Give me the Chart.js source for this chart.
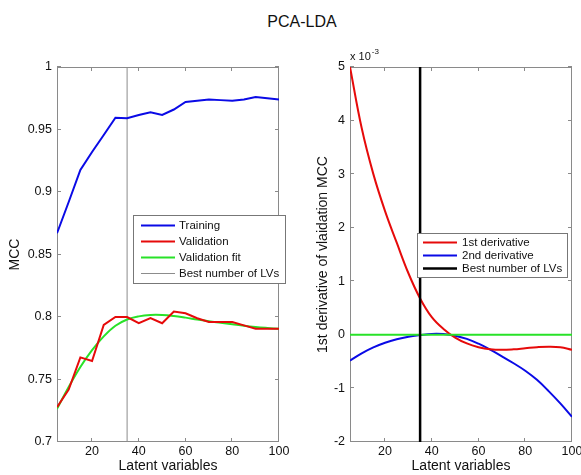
<!DOCTYPE html>
<html>
<head>
<meta charset="utf-8">
<script src="https://cdn.jsdelivr.net/npm/chart.js@4.4.0/dist/chart.umd.min.js"></script>
<style>
  html, body { margin: 0; padding: 0; background: #fff; overflow: hidden; }
  #page { position: relative; width: 581px; height: 475px; }
  #title {
    position: absolute; left: 202px; width: 200px; top: 13px;
    text-align: center; font: 16px "Liberation Sans", Arial, sans-serif; color: #111;
  }
  canvas { position: absolute; top: 0; }
  #mccChart { left: 0; }
  #derivChart { left: 300px; }
</style>
</head>
<body>
<div id="page">
  <div id="title">PCA-LDA</div>
  <canvas id="mccChart" width="300" height="475"></canvas>
  <canvas id="derivChart" width="290" height="475"></canvas>
</div>
<script>
// number of latent variables
const latentVars = [5, 10, 15, 20, 25, 30, 35, 40, 45, 50, 55, 60, 65, 70, 75, 80, 85, 90, 95, 100];
const bestLv = 35;

// MCC curves
const trainingMcc = [0.867, 0.892, 0.9176, 0.932, 0.9456, 0.9594, 0.959, 0.9616, 0.9637, 0.9616,
                     0.966, 0.972, 0.973, 0.974, 0.9735, 0.973, 0.974, 0.976, 0.975, 0.974];
const validationMcc = [0.7278, 0.742, 0.7677, 0.7648, 0.7936, 0.800, 0.800, 0.795, 0.7992, 0.795,
                       0.8043, 0.803, 0.799, 0.796, 0.796, 0.796, 0.7933, 0.7907, 0.7907, 0.7907];
const validationFit = [0.7265, 0.744, 0.760, 0.7735, 0.7845, 0.793, 0.798, 0.8005, 0.8016, 0.8016,
                       0.8008, 0.7995, 0.798, 0.7966, 0.7954, 0.7942, 0.793, 0.792, 0.7912, 0.7905];

// derivatives of the validation fit (x 10^-3)
const firstDeriv = [5.0, 3.86, 3.0, 2.31, 1.72, 1.15, 0.68, 0.33, 0.11, -0.05,
                    -0.16, -0.23, -0.27, -0.28, -0.27, -0.25, -0.23, -0.22, -0.23, -0.28];
const secondDeriv = [-0.48, -0.345, -0.235, -0.148, -0.083, -0.036, -0.005, 0.018, 0.015, -0.015,
                     -0.075, -0.165, -0.275, -0.40, -0.53, -0.67, -0.84, -1.05, -1.28, -1.53];
const zeroLevel = 0;

// tick labels
const xTicks = [20, 40, 60, 80, 100];
const mccTicks = [0.7, 0.75, 0.8, 0.85, 0.9, 0.95, 1];
const derivTicks = [-2, -1, 0, 1, 2, 3, 4, 5];

Chart.defaults.font.family = '"Liberation Sans", Arial, sans-serif';
Chart.defaults.color = '#111';

function pairs(xs, ys) {
    return xs.map((x, i) => ({ x, y: ys[i] }));
}

// box around the plot area with inward tick marks on all sides
const axesBox = {
    id: 'axesBox',
    beforeDatasetsDraw(chart) {
        const { ctx, chartArea: a, scales } = chart;
        ctx.save();
        ctx.strokeStyle = '#8a8a8a';
        ctx.lineWidth = 1;
        ctx.strokeRect(a.left + 0.5, a.top + 0.5, a.width - 1, a.height - 1);
        ctx.beginPath();
        scales.x.ticks.forEach(t => {
            const px = Math.round(scales.x.getPixelForValue(t.value)) - 0.5;
            ctx.moveTo(px, a.bottom); ctx.lineTo(px, a.bottom - 4);
            ctx.moveTo(px, a.top); ctx.lineTo(px, a.top + 4);
        });
        scales.y.ticks.forEach(t => {
            const py = Math.round(scales.y.getPixelForValue(t.value)) - 0.5;
            ctx.moveTo(a.left, py); ctx.lineTo(a.left + 4, py);
            ctx.moveTo(a.right, py); ctx.lineTo(a.right - 4, py);
        });
        ctx.stroke();
        ctx.restore();
    }
};

// legend drawn as a framed box inside the axes
const boxLegend = {
    id: 'boxLegend',
    afterDraw(chart, args, opts) {
        const { ctx, chartArea: a } = chart;
        const items = chart.data.datasets.filter(ds => ds.label);
        const x = a.left + opts.left;
        const y = a.top + opts.top;
        const h = opts.pad * 2 + (items.length - 1) * opts.rowHeight;
        ctx.save();
        ctx.fillStyle = '#fff';
        ctx.fillRect(x, y, opts.width, h);
        ctx.strokeStyle = '#777';
        ctx.lineWidth = 1;
        ctx.strokeRect(x + 0.5, y + 0.5, opts.width, h);
        ctx.font = '11.5px "Liberation Sans", Arial, sans-serif';
        ctx.textBaseline = 'middle';
        items.forEach((ds, i) => {
            const ry = Math.round(y + opts.pad + i * opts.rowHeight) + 0.5;
            ctx.strokeStyle = ds.borderColor;
            ctx.lineWidth = ds.borderWidth;
            ctx.beginPath();
            ctx.moveTo(x + opts.lineStart, ry);
            ctx.lineTo(x + opts.lineEnd, ry);
            ctx.stroke();
            ctx.fillStyle = '#111';
            ctx.fillText(ds.label, x + opts.textStart, ry);
        });
        ctx.restore();
    }
};

// "x 10^-3" multiplier above the y axis
const axisExponent = {
    id: 'axisExponent',
    afterDraw(chart, args, opts) {
        if (!opts.power) return;
        const { ctx, chartArea: a } = chart;
        ctx.save();
        ctx.fillStyle = '#111';
        ctx.textBaseline = 'middle';
        ctx.font = '11px "Liberation Sans", Arial, sans-serif';
        ctx.fillText(opts.base, a.left, a.top - 10);
        const w = ctx.measureText(opts.base).width;
        ctx.font = '8px "Liberation Sans", Arial, sans-serif';
        ctx.fillText(opts.power, a.left + w + 1, a.top - 15);
        ctx.restore();
    }
};

function xScale() {
    return {
        type: 'linear',
        min: latentVars[0],
        max: latentVars[latentVars.length - 1],
        afterBuildTicks: s => { s.ticks = xTicks.map(v => ({ value: v })); },
        afterFit: s => { s.height = 33; },
        grid: { display: false, drawTicks: false },
        border: { display: false },
        ticks: { padding: 2, font: { size: 12.5 }, maxRotation: 0, autoSkip: false },
        title: { display: true, text: 'Latent variables', padding: { top: 0, bottom: 0 }, font: { size: 14 } }
    };
}

function yScale(ticks, width, label, titlePad) {
    return {
        type: 'linear',
        min: ticks[0],
        max: ticks[ticks.length - 1],
        afterBuildTicks: s => { s.ticks = ticks.map(v => ({ value: v })); },
        afterFit: s => { s.width = width; },
        grid: { display: false, drawTicks: false },
        border: { display: false },
        ticks: { padding: 5, font: { size: 12.5 }, autoSkip: false, callback: v => String(v) },
        title: { display: true, text: label, padding: { top: titlePad, bottom: 0 }, font: { size: 14 } }
    };
}

const commonOptions = {
    responsive: false,
    animation: false,
    elements: { point: { radius: 0 }, line: { tension: 0 } },
    events: []
};

new Chart(document.getElementById('mccChart'), {
    type: 'line',
    data: {
        datasets: [
            { label: 'Training', data: pairs(latentVars, trainingMcc), borderColor: '#0a0ae6', borderWidth: 2, order: 1 },
            { label: 'Validation', data: pairs(latentVars, validationMcc), borderColor: '#e60a0a', borderWidth: 2, order: 0 },
            { label: 'Validation fit', data: pairs(latentVars, validationFit), borderColor: '#28e228', borderWidth: 2,
              tension: 0.4, order: 2 },
            { label: 'Best number of LVs', data: [{ x: bestLv, y: mccTicks[0] }, { x: bestLv, y: mccTicks[mccTicks.length - 1] }],
              borderColor: '#8c8c8c', borderWidth: 1, order: 3 }
        ]
    },
    options: {
        ...commonOptions,
        layout: { padding: { left: 0, top: 67, right: 21, bottom: 0 } },
        plugins: {
            legend: { display: false },
            tooltip: { enabled: false },
            boxLegend: { left: 76, top: 148, width: 152, pad: 10, rowHeight: 16, lineStart: 8, lineEnd: 42, textStart: 46 }
        },
        scales: {
            x: xScale(),
            y: yScale(mccTicks, 57, 'MCC', 7)
        }
    },
    plugins: [axesBox, boxLegend]
});

new Chart(document.getElementById('derivChart'), {
    type: 'line',
    data: {
        datasets: [
            { label: '1st derivative', data: pairs(latentVars, firstDeriv), borderColor: '#e60a0a', borderWidth: 2,
              tension: 0.4, order: 2 },
            { label: '2nd derivative', data: pairs(latentVars, secondDeriv), borderColor: '#0a0ae6', borderWidth: 2,
              tension: 0.4, order: 3 },
            { label: 'Best number of LVs', data: [{ x: bestLv, y: derivTicks[0] }, { x: bestLv, y: derivTicks[derivTicks.length - 1] }],
              borderColor: '#000', borderWidth: 2.5, order: 0 },
            { data: [{ x: latentVars[0], y: zeroLevel }, { x: latentVars[latentVars.length - 1], y: zeroLevel }],
              borderColor: '#28e228', borderWidth: 2, order: 1 }
        ]
    },
    options: {
        ...commonOptions,
        layout: { padding: { left: 0, top: 67, right: 18, bottom: 0 } },
        plugins: {
            legend: { display: false },
            tooltip: { enabled: false },
            boxLegend: { left: 67, top: 166, width: 150, pad: 9, rowHeight: 13, lineStart: 6, lineEnd: 40, textStart: 45 },
            axisExponent: { base: 'x 10', power: '-3' }
        },
        scales: {
            x: xScale(),
            y: yScale(derivTicks, 50, '1st derivative of vlaidation MCC', 15)
        }
    },
    plugins: [axesBox, boxLegend, axisExponent]
});
</script>
</body>
</html>
